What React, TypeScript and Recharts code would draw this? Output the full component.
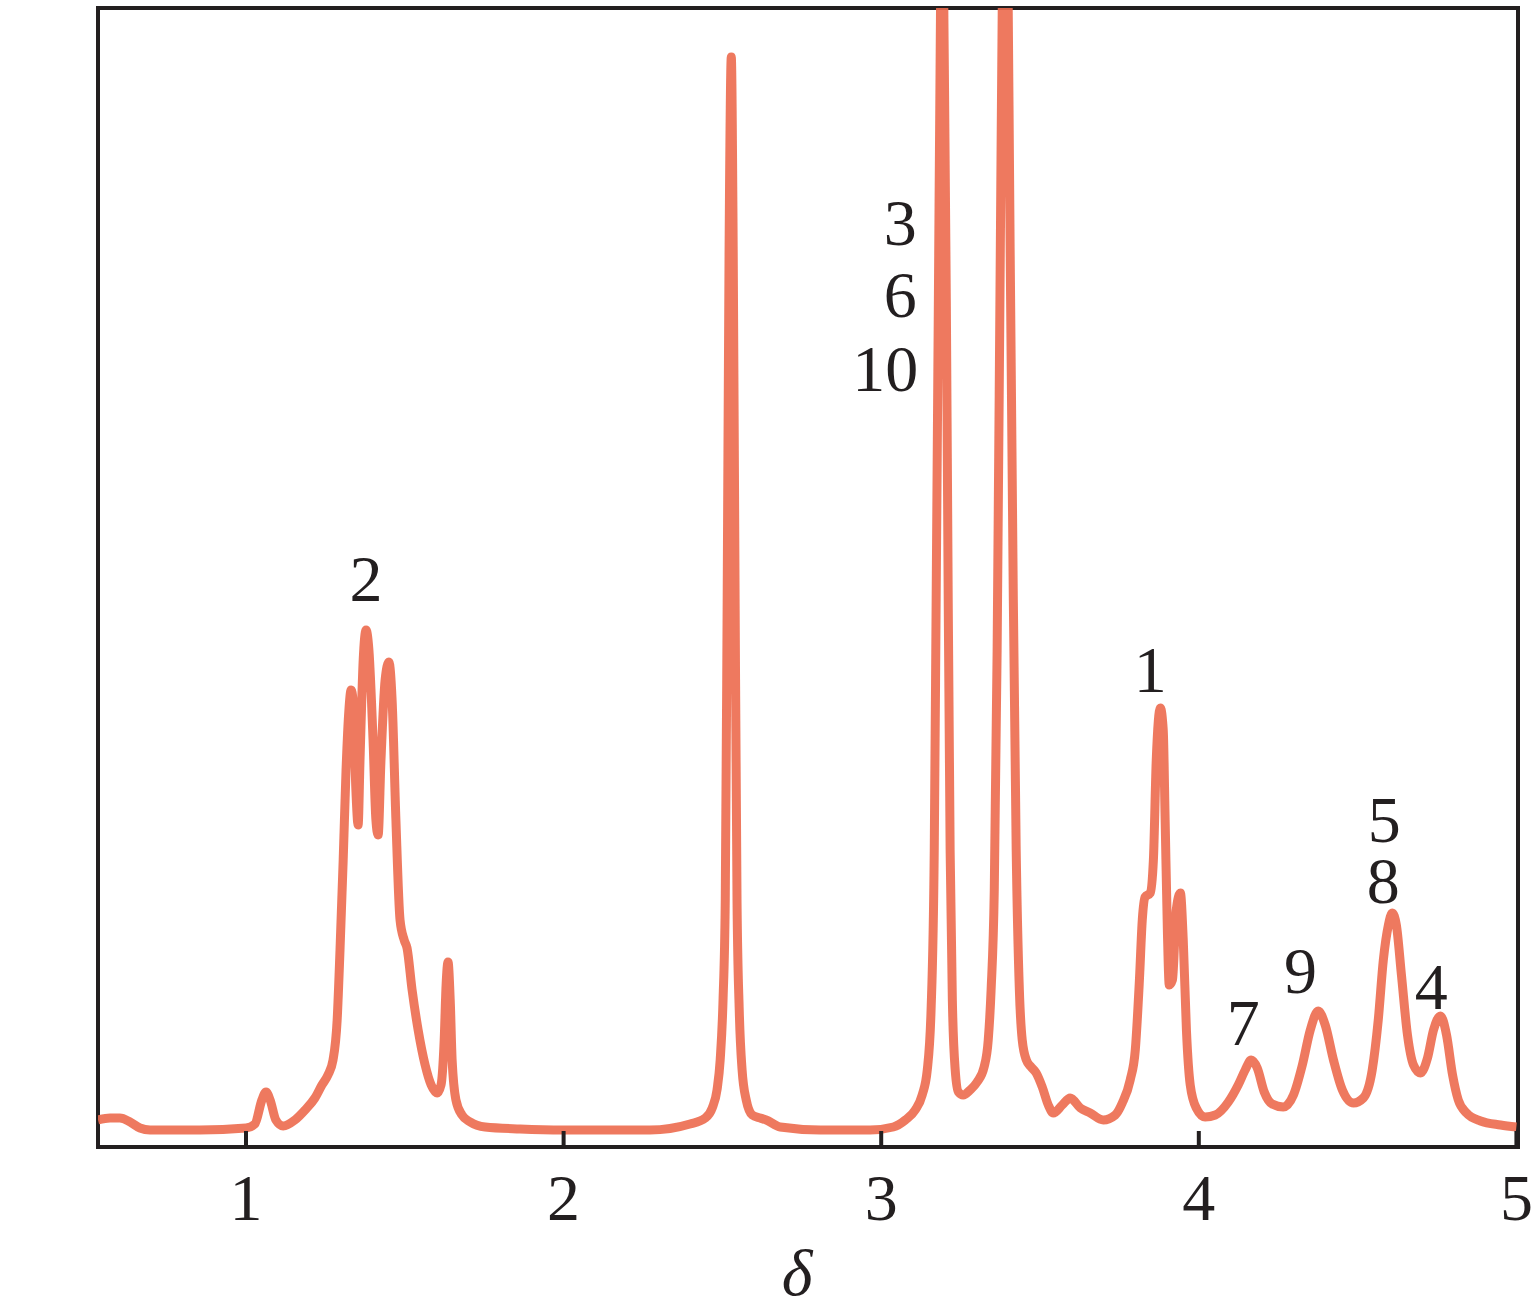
import { LineChart, Line, XAxis, YAxis, ReferenceDot, ReferenceArea } from 'recharts';

// chemical shift (delta) and relative intensity
const shift = [
  0.534, 0.572, 0.603, 0.635, 0.666, 0.698, 0.855, 1.0, 1.028, 1.05, 1.063, 1.076, 1.094, 1.117,
  1.154, 1.186, 1.217, 1.239, 1.258, 1.274, 1.287, 1.296, 1.306, 1.315, 1.324, 1.331, 1.337, 1.346,
  1.353, 1.359, 1.369, 1.378, 1.387, 1.4, 1.409, 1.416, 1.425, 1.438, 1.45, 1.46, 1.472, 1.485,
  1.498, 1.507, 1.523, 1.542, 1.564, 1.583, 1.602, 1.614, 1.624, 1.63, 1.636, 1.643, 1.649, 1.661,
  1.68, 1.706, 1.753, 1.863, 2.0, 2.272, 2.398, 2.446, 2.468, 2.483, 2.493, 2.502, 2.509, 2.515,
  2.521, 2.528, 2.534, 2.54, 2.546, 2.553, 2.562, 2.575, 2.594, 2.619, 2.638, 2.682, 2.808, 2.965,
  3.038, 3.076, 3.107, 3.129, 3.145, 3.157, 3.167, 3.173, 3.18, 3.186, 3.192, 3.198, 3.205, 3.211,
  3.217, 3.224, 3.233, 3.243, 3.258, 3.28, 3.302, 3.324, 3.337, 3.346, 3.356, 3.365, 3.375, 3.384,
  3.391, 3.397, 3.406, 3.416, 3.425, 3.435, 3.444, 3.457, 3.472, 3.488, 3.507, 3.526, 3.542, 3.57,
  3.595, 3.627, 3.658, 3.699, 3.737, 3.759, 3.784, 3.8, 3.813, 3.822, 3.831, 3.847, 3.857, 3.866,
  3.879, 3.888, 3.894, 3.901, 3.907, 3.917, 3.929, 3.942, 3.951, 3.961, 3.973, 3.992, 4.02, 4.052,
  4.093, 4.124, 4.146, 4.165, 4.184, 4.206, 4.231, 4.266, 4.298, 4.326, 4.351, 4.376, 4.398, 4.424,
  4.452, 4.487, 4.518, 4.546, 4.565, 4.581, 4.597, 4.609, 4.622, 4.638, 4.657, 4.676, 4.698, 4.72,
  4.739, 4.761, 4.78, 4.799, 4.817, 4.843, 4.887, 4.95, 5.0,
];

const intensity = [
  27, 29, 29, 25, 19, 17, 17, 19, 23, 47, 55, 47, 27, 21,
  27, 37, 49, 62, 72, 87, 127, 197, 287, 377, 437, 457, 447, 357,
  322, 387, 487, 517, 497, 407, 327, 312, 387, 467, 485, 447, 327, 227,
  207, 199, 157, 117, 82, 62, 54, 62, 107, 162, 185, 147, 87, 47,
  32, 25, 20, 18, 17, 17, 23, 29, 39, 57, 87, 147, 247, 547,
  897, 1090, 897, 547, 247, 137, 77, 47, 32, 29, 27, 20, 17, 17,
  20, 27, 37, 52, 77, 137, 297, 547, 847, 1107, 1300, 1107, 847, 547,
  297, 147, 77, 55, 52, 57, 65, 80, 107, 157, 257, 497, 897, 1250,
  1400, 1250, 897, 547, 297, 157, 107, 87, 80, 74, 60, 42, 34, 42,
  49, 39, 34, 27, 32, 44, 67, 97, 167, 227, 250, 254, 287, 387,
  439, 417, 327, 217, 162, 167, 237, 254, 207, 117, 62, 39, 30, 32,
  45, 62, 77, 87, 79, 55, 43, 40, 52, 82, 117, 136, 122, 87,
  57, 44, 49, 77, 127, 187, 222, 234, 222, 172, 112, 82, 74, 89,
  117, 131, 112, 72, 47, 34, 26, 22, 20,
];

const tickValues = [1, 2, 3, 4, 5];
const xDomain = [0.534, 5.005];
const yDomain = [0, 1139];

// peak assignments
const peakLabels = ['2', '3', '6', '10', '1', '5', '8', '9', '7', '4'];
const peakLabelShift = [1.378, 3.06, 3.06, 3.013, 3.847, 4.584, 4.581, 4.32, 4.14, 4.732];
const peakLabelHeight = [569, 925, 853, 779, 478, 328, 267, 177, 125, 161];

const data = shift.map((d, i) => ({ shift: d, intensity: intensity[i] }));

const ink = '#231f20';
const serif = '"Liberation Serif", "Times New Roman", serif';

export default function App() {
  return (
    <div style={{ position: 'absolute', left: 0, top: 0 }}>
      <LineChart
        width={1538}
        height={1315}
        data={data}
        margin={{ top: 8, right: 20, left: 98, bottom: 8 }}
      >
        <XAxis
          dataKey="shift"
          type="number"
          domain={xDomain}
          allowDataOverflow
          ticks={tickValues}
          tickSize={-16}
          tickMargin={42}
          height={160}
          axisLine={{ stroke: ink, strokeWidth: 4 }}
          tickLine={{ stroke: ink, strokeWidth: 4 }}
          tick={{ fill: ink, fontSize: 66, fontFamily: serif }}
          label={{
            value: 'δ',
            position: 'insideBottom',
            offset: 12,
            dx: -11,
            fontSize: 66,
            fontStyle: 'italic',
            fontFamily: serif,
            fill: ink,
          }}
        />
        <YAxis type="number" domain={yDomain} allowDataOverflow hide />
        <ReferenceArea
          x1={xDomain[0]}
          x2={xDomain[1]}
          y1={yDomain[0]}
          y2={yDomain[1]}
          fill="none"
          stroke={ink}
          strokeWidth={4}
          ifOverflow="visible"
        />
        <Line
          type="monotone"
          dataKey="intensity"
          stroke="#ec6a4e"
          strokeOpacity={0.9}
          strokeWidth={9}
          dot={false}
          isAnimationActive={false}
        />
        {peakLabels.map((t, i) => (
          <ReferenceDot
            key={t + i}
            x={peakLabelShift[i]}
            y={peakLabelHeight[i]}
            r={1}
            fill="none"
            stroke="none"
            ifOverflow="visible"
            label={{
              value: t,
              position: 'center',
              fontSize: 66,
              fontFamily: serif,
              fill: ink,
            }}
          />
        ))}
      </LineChart>
    </div>
  );
}
